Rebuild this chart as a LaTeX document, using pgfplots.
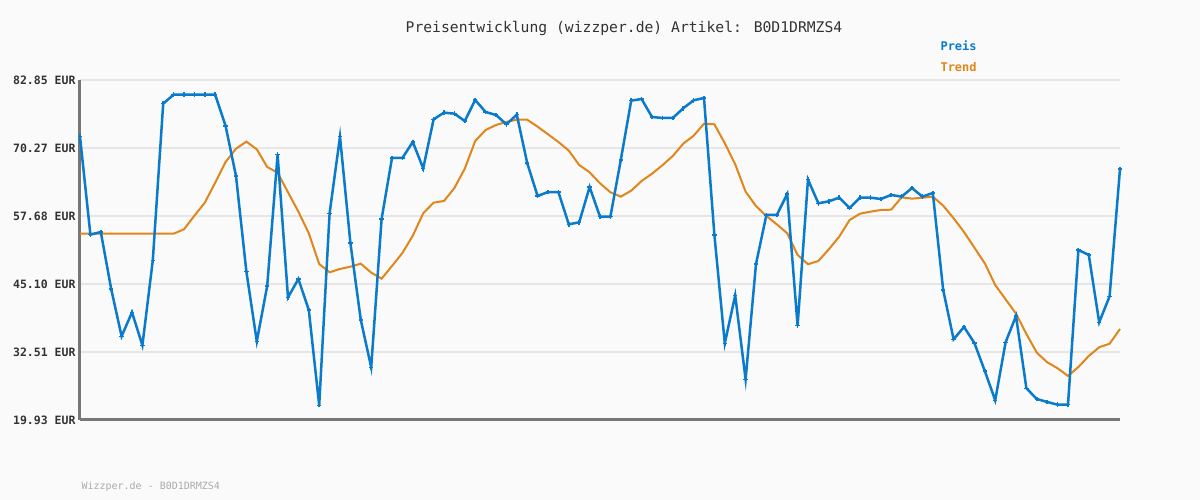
\documentclass[border=0pt]{standalone}
\usepackage{fontspec}
\setmainfont{DejaVu Sans Mono}
\usepackage{pgfplots}
\pgfplotsset{compat=1.18}
\definecolor{bgcol}{HTML}{FAFAFA}
\definecolor{preis}{HTML}{0A7ACC}
\definecolor{trend}{HTML}{E0861A}
\definecolor{gridcol}{HTML}{E6E6E6}
\definecolor{axcol}{HTML}{777777}
\definecolor{txtcol}{HTML}{333333}

\pgfplotstableread{
i preis trend
0 72.36 54.41
1 54.23 54.41
2 54.72 54.41
3 44.17 54.41
4 35.42 54.41
5 39.86 54.41
6 33.75 54.41
7 49.48 54.41
8 78.47 54.41
9 80.14 54.41
10 80.14 55.22
11 80.14 57.74
12 80.14 60.15
13 80.14 63.85
14 74.34 67.68
15 65.09 70.14
16 47.38 71.44
17 34.49 70.02
18 44.73 66.75
19 69.03 65.70
20 42.63 62.07
21 46.02 58.48
22 40.29 54.48
23 22.65 48.80
24 58.18 47.26
25 72.36 47.88
26 52.69 48.30
27 38.44 48.86
28 29.68 47.20
29 57.13 46.08
30 68.42 48.43
31 68.42 50.84
32 71.38 54.04
33 66.50 58.18
34 75.57 60.15
35 76.81 60.46
36 76.62 62.86
37 75.26 66.44
38 79.15 71.56
39 76.93 73.60
40 76.37 74.52
41 74.65 75.08
42 76.43 75.50
43 67.49 75.50
44 61.38 74.21
45 62.12 72.80
46 62.12 71.38
47 56.14 69.77
48 56.51 67.12
49 63.05 65.77
50 57.56 63.73
51 57.56 62.07
52 68.05 61.26
53 79.03 62.37
54 79.33 64.16
55 76.00 65.51
56 75.82 67.07
57 75.82 68.79
58 77.61 71.06
59 79.09 72.54
60 79.52 74.76
61 54.17 74.65
62 34.12 71.14
63 43.00 67.25
64 27.46 62.18
65 48.80 59.53
66 57.87 57.68
67 57.87 56.14
68 61.75 54.48
69 37.39 50.47
70 64.41 48.75
71 60.03 49.36
72 60.40 51.52
73 61.07 53.85
74 59.16 56.94
75 61.07 58.11
76 61.07 58.48
77 60.83 58.79
78 61.57 58.85
79 61.26 61.14
80 62.86 60.89
81 61.26 61.07
82 61.94 61.26
83 43.99 59.59
84 34.87 57.26
85 37.14 54.72
86 34.18 51.82
87 29.00 48.93
88 23.58 44.91
89 34.31 42.27
90 39.18 39.60
91 25.80 35.85
92 23.82 32.39
93 23.26 30.61
94 22.77 29.50
95 22.77 28.08
96 51.39 29.74
97 50.47 31.78
98 38.01 33.39
99 42.82 34.05
100 66.38 36.77
}\prices

\begin{document}
\begin{tikzpicture}[x=1pt,y=1pt]
% background, 1 px = 1 pt, axis origin at pixel (80,420)
\fill[bgcol] (-80,-80) rectangle (1120,420);
\begin{axis}[
    at={(0,0)}, anchor=south west,
    scale only axis,
    width=1040pt, height=340pt,
    xmin=0, xmax=100,
    ymin=19.93, ymax=82.85,
    axis x line*=bottom, axis y line*=left,
    axis line style={-, draw=axcol, line width=3pt},
    xtick=\empty,
    ytick={19.93,32.51,45.10,57.68,70.27,82.85},
    yticklabels={19.93 EUR,32.51 EUR,45.10 EUR,57.68 EUR,70.27 EUR,82.85 EUR},
    yticklabel style={font=\fontsize{11.5}{12}\selectfont\bfseries, text=txtcol, xshift=-1pt},
    major tick length=0pt,
    ymajorgrids,
    major grid style={draw=gridcol, line width=2.5pt},
    clip=false,
]
\addplot[trend, line width=2pt, no markers] table[x=i, y=trend] {\prices};
\addplot[preis, line width=2.5pt, mark=+, mark size=2.2pt,
    mark options={line width=1.5pt}] table[x=i, y=preis] {\prices};
\end{axis}
\node[text=txtcol, font=\fontsize{14.7}{16}\selectfont] at (544,392) {Preisentwicklung (wizzper.de) Artikel: B0D1DRMZS4};
\node[text=preis, font=\fontsize{12}{13}\selectfont\bfseries, anchor=west] at (857,374) {Preis};
\node[text=trend, font=\fontsize{12}{13}\selectfont\bfseries, anchor=west] at (857,353) {Trend};
\node[text=black!33, font=\fontsize{10}{11}\selectfont, anchor=west] at (-2,-67) {Wizzper.de - B0D1DRMZS4};
\end{tikzpicture}
\end{document}
